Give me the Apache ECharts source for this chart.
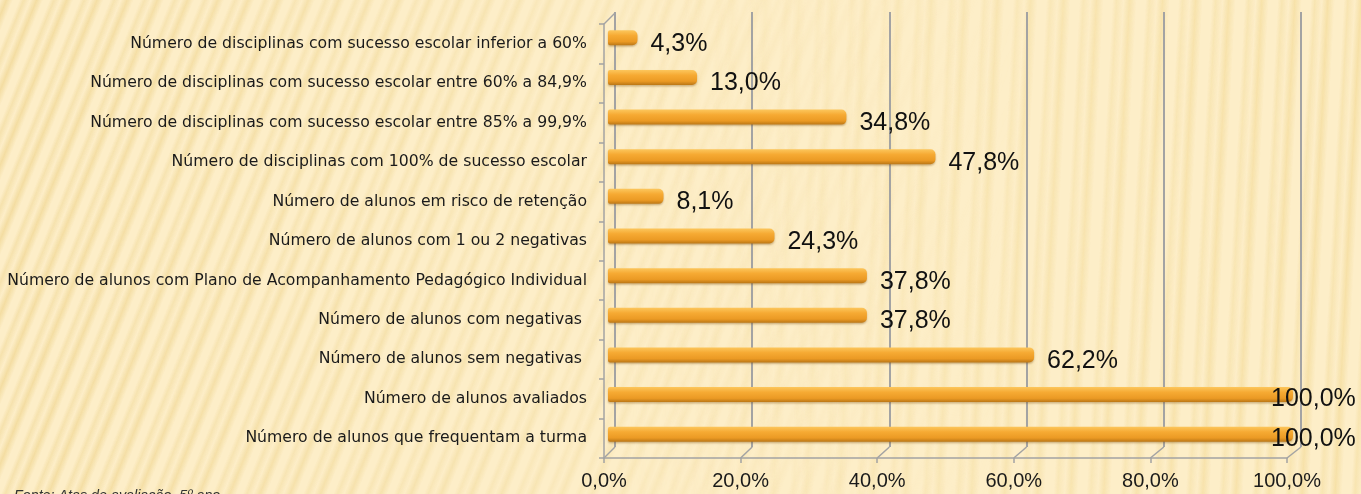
<!DOCTYPE html>
<html>
<head>
<meta charset="utf-8">
<script src="https://cdn.jsdelivr.net/npm/echarts@6/dist/echarts.min.js"></script>
<style>
  html, body { margin: 0; padding: 0; }
  body { width: 1361px; height: 494px; overflow: hidden; position: relative; background: #fdeec8; }
  /* grained paper backdrop */
  #grain-left, #grain-right { position: absolute; left: 0; top: 0; width: 1361px; height: 494px; }
  #grain-left {
    background: repeating-linear-gradient(112deg,
      rgba(234, 204, 124, 0) 0px, rgba(234, 204, 124, 0.5) 6px, rgba(234, 204, 124, 0) 12px,
      rgba(234, 204, 124, 0) 18px, rgba(234, 204, 124, 0.35) 22px, rgba(234, 204, 124, 0) 28px);
    -webkit-mask-image: linear-gradient(to right, #000 0%, rgba(0,0,0,0.6) 35%, rgba(0,0,0,0.15) 60%, rgba(0,0,0,0) 75%);
    mask-image: linear-gradient(to right, #000 0%, rgba(0,0,0,0.6) 35%, rgba(0,0,0,0.15) 60%, rgba(0,0,0,0) 75%);
  }
  #grain-right {
    background: repeating-linear-gradient(93deg,
      rgba(240, 212, 136, 0) 0px, rgba(240, 212, 136, 0.5) 6px, rgba(240, 212, 136, 0) 13px,
      rgba(240, 212, 136, 0) 22px, rgba(240, 212, 136, 0.35) 26px, rgba(240, 212, 136, 0) 33px);
    -webkit-mask-image: linear-gradient(to right, rgba(0,0,0,0) 45%, rgba(0,0,0,0.7) 75%, #000 100%);
    mask-image: linear-gradient(to right, rgba(0,0,0,0) 45%, rgba(0,0,0,0.7) 75%, #000 100%);
  }
  #chart { position: absolute; left: 0; top: 0; width: 1361px; height: 494px; }
</style>
</head>
<body>
<div id="grain-left"></div>
<div id="grain-right"></div>
<div id="chart"></div>
<script>
// Indicators, listed top to bottom
const categories = [
  'Número de disciplinas com sucesso escolar inferior a 60%',
  'Número de disciplinas com sucesso escolar entre 60% a 84,9%',
  'Número de disciplinas com sucesso escolar entre 85% a 99,9%',
  'Número de disciplinas com 100% de sucesso escolar',
  'Número de alunos em risco de retenção',
  'Número de alunos com 1 ou 2 negativas',
  'Número de alunos com Plano de Acompanhamento Pedagógico Individual',
  'Número de alunos com negativas ',
  'Número de alunos sem negativas ',
  'Número de alunos avaliados',
  'Número de alunos que frequentam a turma'
];
// Percentages (%)
const values = [4.3, 13.0, 34.8, 47.8, 8.1, 24.3, 37.8, 37.8, 62.2, 100.0, 100.0];
// Percent axis ticks
const axisTicks = [0, 20, 40, 60, 80, 100];
const sourceNote = 'Fonte: Atas de avaliação, 5º ano';

const fmt = v => v.toFixed(1).replace('.', ',') + '%';

const chart = echarts.init(document.getElementById('chart'), null, { renderer: 'canvas' });

const frameColor = '#a3a3a3';
const textFont = '"Liberation Sans", Arial, sans-serif';
const categoryFont = '"DejaVu Sans", Verdana, sans-serif';

// Bars that reach the right edge keep their label pulled back inside the chart
const barData = values.map(v => v >= 100
  ? { value: v, label: { offset: [-35, 5] } }
  : v);

// Diagonal floor connectors between the front axis and the back wall
function connectorItem(params, api) {
  const v = api.value(0);
  const front = chart.convertToPixel({ xAxisIndex: 2 }, v);
  const back = chart.convertToPixel({ xAxisIndex: 0 }, v);
  const cs = params.coordSys;
  const frontBottom = cs.y + cs.height;
  const backBottom = frontBottom - 11;
  const children = [{
    type: 'line',
    shape: { x1: front, y1: frontBottom, x2: back, y2: backBottom },
    style: { stroke: frameColor, lineWidth: 1.5 }
  }];
  if (params.dataIndex === 0) {
    children.push({
      type: 'line',
      shape: { x1: front, y1: cs.y, x2: back, y2: cs.y - 11 },
      style: { stroke: frameColor, lineWidth: 1.5 }
    });
  }
  return { type: 'group', children: children };
}

chart.setOption({
  backgroundColor: 'transparent',
  animation: false,
  title: {
    text: sourceNote,
    left: 14,
    top: 489,
    padding: 0,
    textStyle: { fontFamily: textFont, fontStyle: 'italic', fontWeight: 'normal', fontSize: 14.3, color: '#333' }
  },
  grid: [
    // back wall
    { left: 615, right: 60, top: 12, bottom: 47 },
    // bars
    { left: 608, right: 68, top: 18, bottom: 40 },
    // front frame with axes
    { left: 604, right: 74, top: 24, bottom: 36 }
  ],
  xAxis: [
    {
      gridIndex: 0, type: 'value', min: 0, max: 100, interval: 20,
      axisLine: { show: false }, axisTick: { show: false }, axisLabel: { show: false },
      splitLine: { show: true, lineStyle: { color: frameColor, width: 2 } }
    },
    {
      gridIndex: 1, type: 'value', min: 0, max: 100, interval: 20,
      axisLine: { show: false }, axisTick: { show: false }, axisLabel: { show: false },
      splitLine: { show: false }
    },
    {
      gridIndex: 2, type: 'value', min: 0, max: 100, interval: 20,
      axisLine: { show: true, onZero: false, lineStyle: { color: frameColor, width: 1.5 } },
      axisTick: { show: true, length: 5, lineStyle: { color: frameColor, width: 1.5 } },
      axisLabel: {
        show: true, margin: 13, color: '#1a1a1a', fontSize: 20, fontFamily: textFont,
        customValues: axisTicks,
        formatter: v => fmt(v)
      },
      splitLine: { show: false }
    }
  ],
  yAxis: [
    {
      gridIndex: 0, type: 'category', data: categories, inverse: true,
      axisLine: { show: false }, axisTick: { show: false }, axisLabel: { show: false }
    },
    {
      gridIndex: 1, type: 'category', data: categories, inverse: true,
      axisLine: { show: false }, axisTick: { show: false }, axisLabel: { show: false }
    },
    {
      gridIndex: 2, type: 'category', data: categories, inverse: true,
      axisLine: { show: true, lineStyle: { color: frameColor, width: 1.5 } },
      axisTick: { show: true, length: 5, lineStyle: { color: frameColor, width: 1.5 } },
      axisLabel: { show: true, margin: 17, color: '#1a1a1a', fontSize: 15.7, fontFamily: categoryFont }
    }
  ],
  series: [
    {
      type: 'bar',
      xAxisIndex: 1, yAxisIndex: 1,
      data: barData,
      barWidth: 15,
      itemStyle: {
        borderRadius: [2, 5, 5, 2],
        color: new echarts.graphic.LinearGradient(0, 0, 0, 1, [
          { offset: 0, color: '#fcc65c' },
          { offset: 0.35, color: '#f6aa33' },
          { offset: 0.75, color: '#eb9a24' },
          { offset: 1, color: '#bb7716' }
        ]),
        shadowColor: 'rgba(120, 70, 0, 0.35)',
        shadowBlur: 2,
        shadowOffsetY: 1.5
      },
      label: {
        show: true,
        position: 'right',
        distance: 13,
        offset: [0, 6],
        color: '#111',
        fontSize: 25,
        fontFamily: textFont,
        formatter: p => fmt(p.value)
      }
    },
    {
      type: 'custom',
      xAxisIndex: 2, yAxisIndex: 2,
      data: axisTicks.map(v => [v, 0]),
      renderItem: connectorItem,
      silent: true,
      z: 1
    }
  ]
});
</script>
</body>
</html>
